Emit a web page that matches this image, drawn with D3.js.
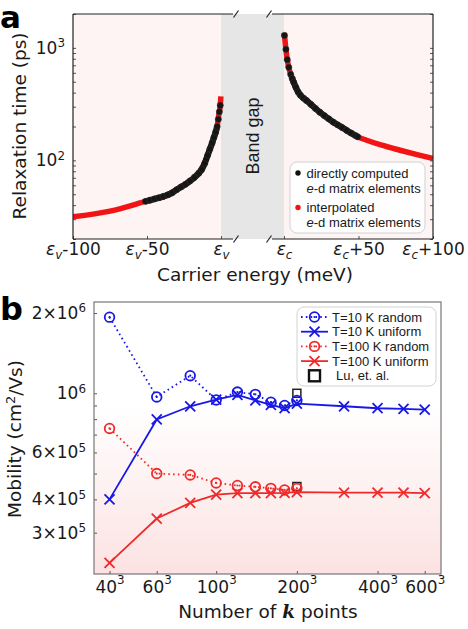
<!DOCTYPE html>
<html>
<head>
<meta charset="utf-8">
<script src="https://cdn.jsdelivr.net/npm/d3@7"></script>
<style>
  body { margin: 0; background: #fff; }
  svg { display: block; }
  text { font-family: 'DejaVu Sans', sans-serif; fill: #1a1a1a; }
  .lgd { font-family: 'Liberation Sans', Arial, sans-serif; font-size: 13px; }
</style>
</head>
<body>
<svg width="468" height="629"></svg>
<script>
// ---------- data, panel a (energy in meV from band edge, tau in ps) ----------
var valenceE   = [-100, -75, -50, -36.5, -29.7, -23, -16.2, -11.5, -8.1, -5.4, -2.7, -1.35, -0.5, -0.1];
var valenceTau = [31.5, 35.4, 43.6, 48.9, 55.3, 62.5, 73.6, 92, 120, 150, 196, 262, 308, 370];
var valenceDotE   = [-51, -48, -45, -42, -39, -36, -33, -30, -27, -24, -21, -18, -15, -13, -11, -9, -7.5, -6, -4.8, -3.6, -2.6, -1.8, -1.1, -0.5];
var valenceDotTau = [43.2, 44.3, 45.4, 46.5, 47.8, 49.3, 51.5, 54.8, 58, 61.3, 65.5, 70.5, 77, 83, 94, 111, 126, 143, 160, 178, 200, 232, 270, 308];

var conductionE   = [0.1, 0.3, 1.3, 2.2, 3.2, 4.5, 6.2, 9.4, 15.2, 24.2, 33.1, 42.1, 48.8, 55.5, 65, 77.9, 90, 100];
var conductionTau = [1350, 1290, 970, 785, 671, 581, 504, 402, 341, 268, 219, 185, 163, 151, 137, 123, 112, 104];
var conductionDotE   = [0.3, 1.3, 2.2, 3.2, 4.5, 5.5, 6.5, 8, 9.5, 11, 13, 15, 18, 21, 24, 27, 30, 33, 36, 39, 42, 45, 48, 49.5];
var conductionDotTau = [1290, 970, 785, 671, 581, 535, 495, 445, 405, 380, 358, 341, 315, 290, 268, 250, 234, 219, 207, 196, 185, 175, 166, 162];

var valenceTicks = [-100, -50, 0];
var conductionTicks = [0, 50, 100];
var tauMinor = [20, 30, 40, 50, 60, 70, 80, 90, 100, 200, 300, 400, 500, 600, 700, 800, 900, 1000, 2000];

// ---------- data, panel b (k grid side, mobility in cm2/Vs) ----------
var kRandom  = [40, 60, 80, 100, 120, 140, 160, 180, 200];
var kUniform = [40, 60, 80, 100, 120, 140, 160, 180, 200, 300, 400, 500, 600];
var mob10Random   = [1.93e6, 0.969e6, 1.164e6, 0.944e6, 1.011e6, 0.991e6, 0.926e6, 0.90e6, 0.94e6];
var mob10Uniform  = [0.40e6, 0.798e6, 0.894e6, 0.947e6, 0.986e6, 0.94e6, 0.905e6, 0.879e6, 0.915e6, 0.894e6, 0.879e6, 0.874e6, 0.869e6];
var mob100Random  = [0.738e6, 0.50e6, 0.494e6, 0.461e6, 0.451e6, 0.446e6, 0.44e6, 0.434e6, 0.44e6];
var mob100Uniform = [0.231e6, 0.339e6, 0.388e6, 0.417e6, 0.422e6, 0.422e6, 0.422e6, 0.423e6, 0.426e6, 0.424e6, 0.424e6, 0.424e6, 0.422e6];
var luK   = [200, 200];
var luMob = [1.0e6, 0.447e6];

var kTicks = [40, 60, 100, 200, 400, 600];
var mobTicks = [3e5, 4e5, 5e5, 6e5, 7e5, 8e5, 9e5, 1e6, 2e6];
var mobLabels = {2e6: ['2\u00d710', '6'], 1e6: ['10', '6'], 6e5: ['6\u00d710', '5'], 4e5: ['4\u00d710', '5'], 3e5: ['3\u00d710', '5']};

var blue = '#1818e6', red = '#ef2a2a';
var tickFont = 17, labelFont = 18.5;

var svg = d3.select('svg');
var defs = svg.append('defs');

function supLabel(sel, base, exp) {
  sel.text(null);
  sel.append('tspan').text(base);
  sel.append('tspan').attr('dy', '-0.55em').attr('font-size', '0.7em').text(exp);
}

// =================== panel a ===================
var A = {left: 73, right: 433, top: 14, bottom: 239};
var xv = d3.scaleLinear().domain([-100, 0]).range([A.left, 221]);
var xc = d3.scaleLinear().domain([0, 100]).range([284, A.right]);
var ya = d3.scaleLog().domain([20, 2000]).range([A.bottom, A.top]);

defs.append('clipPath').attr('id', 'clipA')
  .append('rect').attr('x', A.left).attr('y', A.top)
  .attr('width', A.right - A.left).attr('height', A.bottom - A.top);

svg.append('rect')
  .attr('x', A.left).attr('y', A.top)
  .attr('width', A.right - A.left).attr('height', A.bottom - A.top)
  .attr('fill', '#fdf4f3');

// band gap
svg.append('rect')
  .attr('x', xv(0)).attr('y', A.top)
  .attr('width', xc(0) - xv(0)).attr('height', A.bottom - A.top)
  .attr('fill', '#e6e6e6');

svg.append('text')
  .attr('transform', 'translate(' + ((xv(0) + xc(0)) / 2) + ',136) rotate(-90)')
  .attr('text-anchor', 'middle').attr('dy', '0.35em')
  .style('font-family', "'Liberation Sans', Arial, sans-serif")
  .style('font-size', '18px')
  .text('Band gap');

var gA = svg.append('g').attr('clip-path', 'url(#clipA)');

var lineV = d3.line().x(d => xv(d[0])).y(d => ya(d[1])).curve(d3.curveMonotoneX);
var lineC = d3.line().x(d => xc(d[0])).y(d => ya(d[1])).curve(d3.curveMonotoneX);

// interpolated (red)
gA.append('path').attr('d', lineV(d3.zip(valenceE, valenceTau)))
  .attr('fill', 'none').attr('stroke', '#f21414').attr('stroke-width', 5.5);
gA.append('path').attr('d', lineC(d3.zip(conductionE, conductionTau)))
  .attr('fill', 'none').attr('stroke', '#f21414').attr('stroke-width', 5.5);

// directly computed (black) - dense band plus dots
var vDots = d3.zip(valenceDotE, valenceDotTau);
var cDots = d3.zip(conductionDotE, conductionDotTau);
gA.append('path').attr('d', lineV(vDots.filter(d => d[0] <= -2.5)))
  .attr('fill', 'none').attr('stroke', '#111').attr('stroke-width', 6.2);
gA.append('path').attr('d', lineC(cDots.filter(d => d[0] >= 5.5)))
  .attr('fill', 'none').attr('stroke', '#111').attr('stroke-width', 6.2);

gA.selectAll('circle.v').data(vDots).enter().append('circle')
  .attr('cx', d => xv(d[0])).attr('cy', d => ya(d[1])).attr('r', 3.1)
  .attr('fill', '#151515').attr('stroke', '#333').attr('stroke-width', 0.5);
gA.selectAll('circle.c').data(cDots).enter().append('circle')
  .attr('cx', d => xc(d[0])).attr('cy', d => ya(d[1])).attr('r', 3.1)
  .attr('fill', '#151515').attr('stroke', '#333').attr('stroke-width', 0.5);

// y axis (ticks inward both sides)
var yAxisA = svg.append('g')
  .attr('transform', 'translate(' + A.left + ',0)')
  .call(d3.axisLeft(ya).tickValues(tauMinor).tickSize(-3).tickPadding(8).tickFormat(''));
svg.append('g')
  .attr('transform', 'translate(' + A.right + ',0)')
  .call(d3.axisRight(ya).tickValues(tauMinor).tickSize(-3).tickFormat(''));
yAxisA.selectAll('.tick text')
  .attr('font-size', tickFont).attr('font-family', null)
  .each(function(d) {
    if (d === 100) supLabel(d3.select(this), '10', '2');
    if (d === 1000) supLabel(d3.select(this), '10', '3');
  });

function epsLabel(sel, sub, rest) {
  sel.text(null);
  sel.append('tspan').attr('font-style', 'italic').text('\u03b5');
  sel.append('tspan').attr('font-style', 'italic').attr('font-size', '0.7em').attr('dy', 3.5).text(sub);
  if (rest) sel.append('tspan').attr('dy', -3.5).text(rest);
}

var xAxV = svg.append('g')
  .attr('transform', 'translate(0,' + A.bottom + ')')
  .call(d3.axisBottom(xv).tickValues(valenceTicks).tickSize(-3).tickPadding(4));
xAxV.selectAll('.tick text')
  .attr('font-size', tickFont).attr('font-family', null)
  .each(function(d) { epsLabel(d3.select(this), 'v', d === 0 ? '' : String(d)); });
var xAxC = svg.append('g')
  .attr('transform', 'translate(0,' + A.bottom + ')')
  .call(d3.axisBottom(xc).tickValues(conductionTicks).tickSize(-3).tickPadding(4));
xAxC.selectAll('.tick text')
  .attr('font-size', tickFont).attr('font-family', null)
  .each(function(d) { epsLabel(d3.select(this), 'c', d === 0 ? '' : '+' + d); });

svg.selectAll('.domain').remove();
svg.selectAll('.tick line').attr('stroke', '#333');

// spines with axis break
var spineA = svg.append('g').attr('stroke', '#222').attr('stroke-width', 1.2).attr('fill', 'none');
spineA.append('line').attr('x1', A.left).attr('x2', A.left).attr('y1', A.top).attr('y2', A.bottom);
spineA.append('line').attr('x1', A.right).attr('x2', A.right).attr('y1', A.top).attr('y2', A.bottom);
[A.top, A.bottom].forEach(function(y) {
  spineA.append('line').attr('x1', A.left).attr('x2', xv(0) + 12).attr('y1', y).attr('y2', y);
  spineA.append('line').attr('x1', xc(0) - 12).attr('x2', A.right).attr('y1', y).attr('y2', y);
  [xv(0) + 15, xc(0) - 15].forEach(function(x) {
    spineA.append('line').attr('x1', x - 2.5).attr('x2', x + 2.5).attr('y1', y + 3.5).attr('y2', y - 3.5);
  });
});

// legend a
var lgA = svg.append('g');
lgA.append('rect').attr('x', 290).attr('y', 162).attr('width', 135).attr('height', 71)
  .attr('rx', 7).attr('fill', '#fff').attr('fill-opacity', 0.85).attr('stroke', '#d2d2d2');
lgA.append('circle').attr('cx', 298).attr('cy', 173).attr('r', 2.7).attr('fill', '#111');
lgA.append('circle').attr('cx', 298).attr('cy', 207.5).attr('r', 2.7).attr('fill', '#f21414');
function edText(y) {
  var t = lgA.append('text').attr('class', 'lgd').attr('x', 306.5).attr('y', y).attr('dy', '0.35em');
  t.append('tspan').attr('font-style', 'italic').text('e');
  t.append('tspan').text('-d matrix elements');
}
lgA.append('text').attr('class', 'lgd').attr('x', 306.5).attr('y', 173).attr('dy', '0.35em').text('directly computed');
edText(188);
lgA.append('text').attr('class', 'lgd').attr('x', 306.5).attr('y', 207).attr('dy', '0.35em').text('interpolated');
edText(222);

// labels a
svg.append('text')
  .attr('transform', 'translate(20,126) rotate(-90)')
  .attr('text-anchor', 'middle').attr('dy', '0.35em')
  .style('font-size', labelFont + 'px')
  .text('Relaxation time (ps)');
svg.append('text')
  .attr('x', 255).attr('y', 281)
  .attr('text-anchor', 'middle')
  .style('font-size', labelFont + 'px')
  .text('Carrier energy (meV)');
svg.append('text')
  .attr('x', 0).attr('y', 28)
  .style('font-size', '31px').style('font-weight', 'bold').style('fill', '#000')
  .text('a');

// =================== panel b ===================
var B = {left: 94, right: 441, top: 302, bottom: 574};
var xb = d3.scaleLog().domain([35, 690]).range([B.left, B.right]);
var yb = d3.scaleLog().domain([2.1e5, 2.2e6]).range([B.bottom, B.top]);

var grad = defs.append('linearGradient').attr('id', 'pinkB')
  .attr('x1', 0).attr('y1', 0).attr('x2', 0).attr('y2', 1);
grad.append('stop').attr('offset', '0').attr('stop-color', '#ffffff');
grad.append('stop').attr('offset', '0.38').attr('stop-color', '#ffffff');
grad.append('stop').attr('offset', '1').attr('stop-color', '#fce2e2');

svg.append('rect')
  .attr('x', B.left).attr('y', B.top)
  .attr('width', B.right - B.left).attr('height', B.bottom - B.top)
  .attr('fill', 'url(#pinkB)');

var yAxisB = svg.append('g')
  .attr('transform', 'translate(' + B.left + ',0)')
  .call(d3.axisLeft(yb).tickValues(mobTicks).tickSize(-3).tickPadding(8).tickFormat(''));
yAxisB.selectAll('.tick text')
  .attr('font-size', tickFont).attr('font-family', null)
  .each(function(d) {
    if (mobLabels[d]) supLabel(d3.select(this), mobLabels[d][0], mobLabels[d][1]);
  });
var xAxisB = svg.append('g')
  .attr('transform', 'translate(0,' + B.bottom + ')')
  .call(d3.axisBottom(xb).tickValues(kTicks).tickSize(-3).tickPadding(7).tickFormat(''));
xAxisB.selectAll('.tick text')
  .attr('font-size', tickFont).attr('font-family', null)
  .each(function(d) { supLabel(d3.select(this), String(d), '3'); });
xAxisB.selectAll('.tick text tspan:last-child').attr('dy', '-0.75em');

yAxisB.select('.domain').remove();
xAxisB.select('.domain').remove();
svg.selectAll('.tick line').attr('stroke', '#555');

svg.append('rect')
  .attr('x', B.left).attr('y', B.top)
  .attr('width', B.right - B.left).attr('height', B.bottom - B.top)
  .attr('fill', 'none').attr('stroke', '#777').attr('stroke-width', 1.2);

var lineB = d3.line().x(d => xb(d[0])).y(d => yb(d[1]));

var series = [
  {k: kRandom,  v: mob10Random,   color: blue, dash: '1.6,3.2', mark: 'o'},
  {k: kUniform, v: mob10Uniform,  color: blue, dash: null,      mark: 'x'},
  {k: kRandom,  v: mob100Random,  color: red,  dash: '1.6,3.2', mark: 'o'},
  {k: kUniform, v: mob100Uniform, color: red,  dash: null,      mark: 'x'}
];

function drawMark(g, type, color) {
  if (type === 'o') {
    g.append('circle').attr('r', 4.8).attr('fill', 'none')
      .attr('stroke', color).attr('stroke-width', 1.8);
    g.append('circle').attr('r', 1.1).attr('fill', color);
  } else {
    g.append('path').attr('d', 'M-5,-5L5,5M-5,5L5,-5')
      .attr('stroke', color).attr('stroke-width', 1.8);
  }
}

var gB = svg.append('g');
// Lu et al. reference squares
gB.selectAll('rect.lu').data(d3.zip(luK, luMob)).enter().append('rect')
  .attr('x', d => xb(d[0]) - 4).attr('y', d => yb(d[1]) - 4)
  .attr('width', 8).attr('height', 8)
  .attr('fill', 'none').attr('stroke', '#222').attr('stroke-width', 1.5);

series.forEach(function(s) {
  var pts = d3.zip(s.k, s.v);
  gB.append('path').attr('d', lineB(pts))
    .attr('fill', 'none').attr('stroke', s.color).attr('stroke-width', 1.8)
    .attr('stroke-dasharray', s.dash);
  pts.forEach(function(p) {
    drawMark(gB.append('g').attr('transform', 'translate(' + xb(p[0]) + ',' + yb(p[1]) + ')'), s.mark, s.color);
  });
});

// legend b
var lgB = svg.append('g');
lgB.append('rect').attr('x', 297).attr('y', 307).attr('width', 139).attr('height', 79)
  .attr('rx', 7).attr('fill', '#fff').attr('fill-opacity', 0.85).attr('stroke', '#d2d2d2');
var lgNames = ['T=10 K random', 'T=10 K uniform', 'T=100 K random', 'T=100 K uniform', 'Lu, et. al.'];
lgNames.forEach(function(name, i) {
  var y = 317 + i * 14.7;
  if (i < 4) {
    var s = series[i];
    lgB.append('line').attr('x1', 301).attr('x2', 328).attr('y1', y).attr('y2', y)
      .attr('stroke', s.color).attr('stroke-width', 1.8).attr('stroke-dasharray', s.dash);
    drawMark(lgB.append('g').attr('transform', 'translate(314.5,' + y + ')'), s.mark, s.color);
  } else {
    lgB.append('rect').attr('x', 309).attr('y', y - 5.5).attr('width', 11).attr('height', 11)
      .attr('fill', 'none').attr('stroke', '#111').attr('stroke-width', 2.4);
  }
  lgB.append('text').attr('class', 'lgd').attr('x', i < 4 ? 332 : 336).attr('y', y).attr('dy', '0.35em').text(name);
});

// labels b
svg.append('text')
  .attr('transform', 'translate(15,439) rotate(-90)')
  .attr('text-anchor', 'middle').attr('dy', '0.35em')
  .style('font-size', labelFont + 'px')
  .call(function(t) {
    t.append('tspan').text('Mobility (cm');
    t.append('tspan').attr('dy', '-0.5em').attr('font-size', '0.7em').text('2');
    t.append('tspan').attr('dy', '0.36em').text('/Vs)');
  });
svg.append('text')
  .attr('x', 268).attr('y', 618)
  .attr('text-anchor', 'middle')
  .style('font-size', labelFont + 'px')
  .call(function(t) {
    t.append('tspan').text('Number of ');
    t.append('tspan').style('font-family', "'DejaVu Serif', serif")
      .style('font-weight', 'bold').style('font-style', 'italic').text('k');
    t.append('tspan').text(' points');
  });
svg.append('text')
  .attr('x', 0).attr('y', 320)
  .style('font-size', '32px').style('font-weight', 'bold').style('fill', '#000')
  .text('b');
</script>
</body>
</html>
